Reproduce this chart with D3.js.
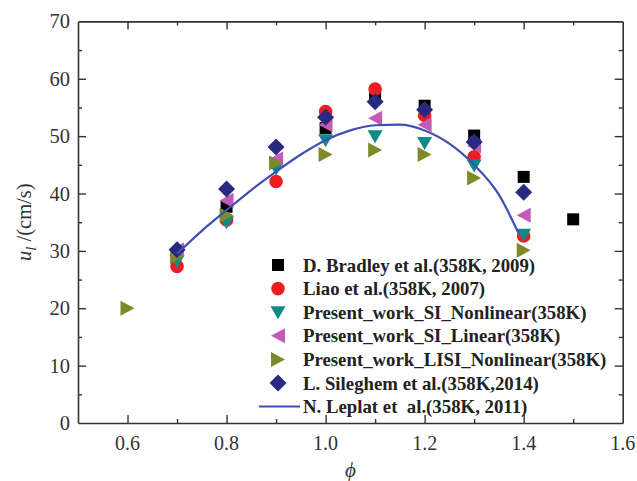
<!DOCTYPE html>
<html><head><meta charset="utf-8">
<script src="https://cdn.jsdelivr.net/npm/d3@7"></script>
<style>body{margin:0;background:#fff} svg text{font-family:"Liberation Serif","DejaVu Serif","Times New Roman",serif; white-space:pre}</style>
</head><body>
<script>
const bradleyPhi = [0.8, 1.0, 1.1, 1.2, 1.3, 1.4, 1.5];
const bradleyU   = [37.7, 51.4, 56.8, 55.3, 50.1, 42.9, 35.5];
const liaoPhi = [0.7, 0.8, 0.9, 1.0, 1.1, 1.2, 1.3, 1.4];
const liaoU   = [27.3, 35.4, 42.1, 54.3, 58.2, 53.6, 46.4, 32.6];
const siNonPhi = [0.7, 0.8, 0.9, 1.0, 1.1, 1.2, 1.3, 1.4];
const siNonU   = [28.2, 35.0, 44.3, 49.3, 50.0, 48.8, 44.9, 32.8];
const siLinPhi = [0.7, 0.8, 0.9, 1.0, 1.1, 1.2, 1.3, 1.4];
const siLinU   = [30.2, 38.8, 46.0, 52.0, 53.1, 52.0, 48.3, 36.2];
const lisiPhi = [0.6, 0.7, 0.8, 0.9, 1.0, 1.1, 1.2, 1.3, 1.4];
const lisiU   = [20.0, 29.0, 36.2, 45.3, 46.8, 47.6, 46.8, 42.7, 30.1];
const sileghemPhi = [0.7, 0.8, 0.9, 1.0, 1.1, 1.2, 1.3, 1.4];
const sileghemU   = [30.2, 40.8, 48.1, 53.3, 56.0, 54.6, 49.0, 40.2];
const leplatPhi = [0.70, 0.75, 0.80, 0.85, 0.90, 0.95, 1.00, 1.05, 1.10, 1.15, 1.20, 1.25, 1.30, 1.35, 1.39];
const leplatU   = [29.5, 33.5, 37.1, 40.6, 43.8, 46.8, 49.3, 51.0, 51.9, 52.0, 51.0, 48.7, 45.0, 39.8, 33.0];
const xTicks = [0.6, 0.8, 1.0, 1.2, 1.4, 1.6];
const yTicks = [0, 10, 20, 30, 40, 50, 60, 70];
const legendLabels = [
  "D. Bradley et al.(358K, 2009)",
  "Liao et al.(358K, 2007)",
  "Present_work_SI_Nonlinear(358K)",
  "Present_work_SI_Linear(358K)",
  "Present_work_LISI_Nonlinear(358K)",
  "L. Sileghem et al.(358K,2014)",
  "N. Leplat et  al.(358K, 2011)"
];

const W = 637, H = 481;
const L = 78, R = 622.7, T = 21.4, B = 423;
const svg = d3.select("body").append("svg").attr("width", W).attr("height", H);
const x = d3.scaleLinear().domain([0.5, 1.6]).range([L, R]);
const y = d3.scaleLinear().domain([0, 70]).range([B, T]);
const axisColor = "#333";

const minorX = d3.range(0.6, 1.55, 0.1).map(v => +v.toFixed(2)).filter(v => Math.round(v * 10) % 2 === 1);
const minorY = d3.range(5, 70, 10);

function styleAxis(g) {
  g.selectAll("path").attr("stroke", axisColor).attr("stroke-width", 1.6);
  g.selectAll("line").attr("stroke", axisColor).attr("stroke-width", 1.4);
}
function addAxis(axisFn, pos, major, minor, isX) {
  const tr = isX ? `translate(0,${pos})` : `translate(${pos},0)`;
  const g1 = svg.append("g").attr("transform", tr)
    .call(axisFn(isX ? x : y).tickValues(major).tickSizeInner(-8).tickSizeOuter(0).tickFormat(""));
  styleAxis(g1);
  const g2 = svg.append("g").attr("transform", tr)
    .call(axisFn(isX ? x : y).tickValues(minor).tickSizeInner(-4).tickSizeOuter(0).tickFormat(""));
  styleAxis(g2); g2.select("path").remove();
}
const majX = xTicks.filter(v => v < 1.6), majY = yTicks.filter(v => v > 0 && v < 70);
addAxis(d3.axisBottom, B, majX, minorX, true);
addAxis(d3.axisTop, T, majX, minorX, true);
addAxis(d3.axisLeft, L, majY, minorY, false);
addAxis(d3.axisRight, R, majY, minorY, false);

// tick labels
svg.append("g").selectAll("text").data(xTicks).join("text")
  .attr("x", d => x(d)).attr("y", 450).attr("text-anchor", "middle")
  .attr("font-size", 20).attr("fill", axisColor).text(d => d.toFixed(1));
svg.append("g").selectAll("text").data(yTicks).join("text")
  .attr("x", L - 8).attr("y", d => y(d) + 7).attr("text-anchor", "end")
  .attr("font-size", 20.5).attr("fill", axisColor).text(d => d);

// axis titles
const yl = svg.append("text").attr("transform", `translate(31,${(T + B) / 2}) rotate(-90)`)
  .attr("text-anchor", "middle").attr("font-size", 20.5).attr("fill", axisColor);
yl.append("tspan").attr("font-style", "italic").text("u");
yl.append("tspan").attr("font-style", "italic").attr("font-size", 15).attr("dy", 5).text("l");
yl.append("tspan").attr("dy", -5).text(" /(cm/s)");
svg.append("text").attr("x", (L + R) / 2).attr("y", 477).attr("text-anchor", "middle")
  .attr("font-size", 21).attr("font-style", "italic").attr("fill", axisColor).text("\u03D5");

const colors = {
  black: "#000000", red: "#ee1d24", teal: "#0f8a8a", magenta: "#c25ab8",
  olive: "#7e8a2a", navy: "#282a80", blue: "#3f4fb3"
};
function shape(kind) {
  switch (kind) {
    case "square": return "M-6,-6h12v12h-12z";
    case "circle": return "M6.8,0A6.8,6.8 0 1,1 -6.8,0A6.8,6.8 0 1,1 6.8,0z";
    case "down": return "M-7.5,-6L7.5,-6L0,7z";
    case "left": return "M7,-7.5L7,7.5L-7,0z";
    case "right": return "M-7,-7.5L-7,7.5L7,0z";
    case "diamond": return "M0,-8.5L8.5,0L0,8.5L-8.5,0z";
  }
}
const series = [
  {phi: bradleyPhi, u: bradleyU, kind: "square", color: colors.black},
  {phi: liaoPhi, u: liaoU, kind: "circle", color: colors.red},
  {phi: siNonPhi, u: siNonU, kind: "down", color: colors.teal},
  {phi: siLinPhi, u: siLinU, kind: "left", color: colors.magenta},
  {phi: lisiPhi, u: lisiU, kind: "right", color: colors.olive},
  {phi: sileghemPhi, u: sileghemU, kind: "diamond", color: colors.navy}
];
series.forEach(s => {
  svg.append("g").selectAll("path").data(s.phi.map((p, i) => [p, s.u[i]])).join("path")
    .attr("transform", d => `translate(${x(d[0])},${y(d[1])})`)
    .attr("d", shape(s.kind)).attr("fill", s.color);
});

const line = d3.line().x(d => x(d[0])).y(d => y(d[1])).curve(d3.curveMonotoneX);
svg.append("path").datum(leplatPhi.map((p, i) => [p, leplatU[i]]))
  .attr("d", line).attr("fill", "none").attr("stroke", colors.blue).attr("stroke-width", 2.2);

// legend
const lgX = 278, lgY0 = 265, lgDy = 23.6;
const lg = svg.append("g");
legendLabels.forEach((lab, i) => {
  const yy = lgY0 + i * lgDy;
  if (i < series.length) {
    lg.append("path").attr("transform", `translate(${lgX},${yy})`)
      .attr("d", shape(series[i].kind)).attr("fill", series[i].color);
  } else {
    lg.append("line").attr("x1", 259).attr("x2", 300).attr("y1", yy).attr("y2", yy)
      .attr("stroke", colors.blue).attr("stroke-width", 2);
  }
  lg.append("text").attr("x", 303).attr("y", yy + 6.5).attr("font-size", 18.8)
    .attr("font-weight", "bold").attr("fill", "#222").text(lab);
});
</script>
</body></html>
